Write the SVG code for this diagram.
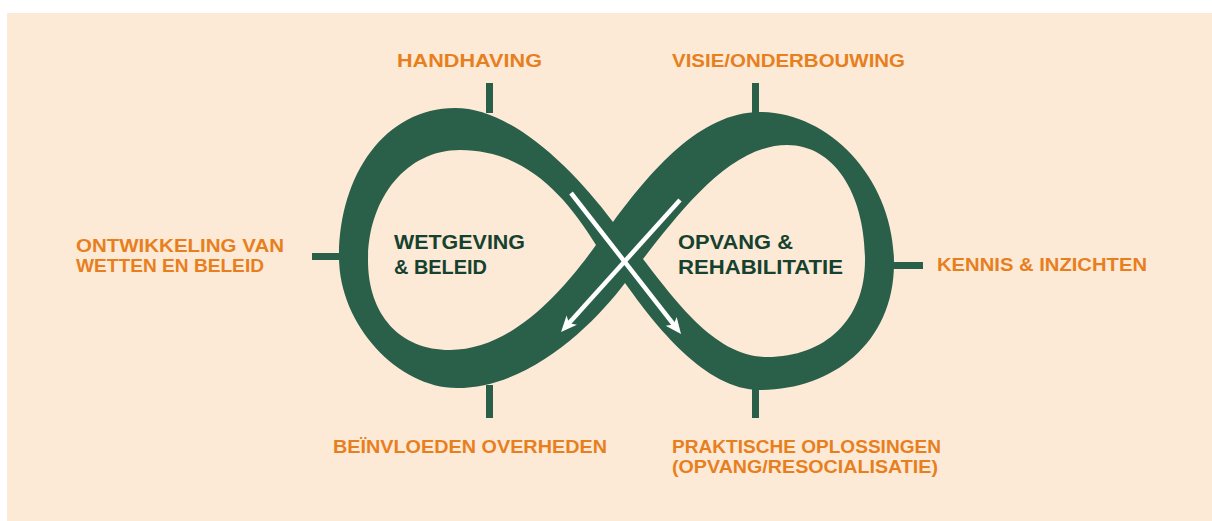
<svg xmlns="http://www.w3.org/2000/svg" width="1212" height="521" viewBox="0 0 1212 521">
  <defs>
    <style>
      .lbl { font-family: "Liberation Sans", Arial, sans-serif; font-weight: bold; font-size: 19px; fill: #E87F1E; }
      .node { font-family: "Liberation Sans", Arial, sans-serif; font-weight: bold; font-size: 21px; fill: #16412E; }
      .tick { fill: #2A5F4A; }
      .arrow { stroke: #FFFFFF; stroke-width: 4.5; fill: none; marker-end: url(#head); }
    </style>
    <marker id="head" markerUnits="userSpaceOnUse" viewBox="-10 -10 20 20" markerWidth="20" markerHeight="20" refX="0" refY="0" orient="auto">
      <path d="M-8,-7 L8,0 L-8,7 L-4,0 Z" fill="#FFFFFF"/>
    </marker>
  </defs>

  <rect x="7" y="13" width="1205" height="508" fill="#FCEAD6"/>

  <g id="infinity">
    <path fill="#2A5F4A" fill-rule="evenodd" d="
      M613,222 C650,172 700,112 760,112 C830,112 894,180 894,263 C894,345 830,390 760,390 C705,390 655,325 625,283
      C595,323 530,388 457,388 C398,388 339,325 339,257 C339,175 385,108 455,108 C510,108 570,165 613,222 Z
      M596,245 C565,195 525,150 460,150 C405,150 368,200 368,260 C368,315 400,350 450,350 C510,350 560,295 596,245 Z
      M643,259 C680,212 730,145 787,145 C835,145 865,195 865,260 C865,320 825,357 767,357 C715,357 675,300 643,259 Z"/>
  </g>

  <g id="connectors">
    <rect class="tick" x="486" y="83" width="7" height="30"/>
    <rect class="tick" x="486" y="385" width="7" height="33"/>
    <rect class="tick" x="752" y="83" width="7" height="32"/>
    <rect class="tick" x="752" y="386" width="7" height="32"/>
    <rect class="tick" x="312" y="253" width="29" height="7"/>
    <rect class="tick" x="890" y="262" width="33" height="7"/>
    <line class="arrow" x1="571" y1="193" x2="676.1" y2="327.7"/>
    <line class="arrow" x1="680" y1="200" x2="566.4" y2="326.1"/>
  </g>

  <g id="node-wetgeving">
    <text class="node" x="394" y="249" textLength="131" lengthAdjust="spacingAndGlyphs">WETGEVING</text>
    <text class="node" x="394" y="274" textLength="93" lengthAdjust="spacingAndGlyphs">&amp; BELEID</text>
  </g>
  <g id="node-opvang">
    <text class="node" x="678" y="249" textLength="115" lengthAdjust="spacingAndGlyphs">OPVANG &amp;</text>
    <text class="node" x="678" y="274" textLength="165" lengthAdjust="spacingAndGlyphs">REHABILITATIE</text>
  </g>

  <g id="label-handhaving">
    <text class="lbl" x="397" y="67" textLength="145" lengthAdjust="spacingAndGlyphs">HANDHAVING</text>
  </g>
  <g id="label-visie">
    <text class="lbl" x="672" y="67" textLength="233" lengthAdjust="spacingAndGlyphs">VISIE/ONDERBOUWING</text>
  </g>
  <g id="label-ontwikkeling">
    <text class="lbl" x="76" y="252" textLength="208" lengthAdjust="spacingAndGlyphs">ONTWIKKELING VAN</text>
    <text class="lbl" x="76" y="272" textLength="188" lengthAdjust="spacingAndGlyphs">WETTEN EN BELEID</text>
  </g>
  <g id="label-kennis">
    <text class="lbl" x="937" y="271" textLength="210" lengthAdjust="spacingAndGlyphs">KENNIS &amp; INZICHTEN</text>
  </g>
  <g id="label-beinvloeden">
    <text class="lbl" x="333" y="453" textLength="274" lengthAdjust="spacingAndGlyphs">BEÏNVLOEDEN OVERHEDEN</text>
  </g>
  <g id="label-praktische">
    <text class="lbl" x="672" y="453" textLength="269" lengthAdjust="spacingAndGlyphs">PRAKTISCHE OPLOSSINGEN</text>
    <text class="lbl" x="672" y="473" textLength="266" lengthAdjust="spacingAndGlyphs">(OPVANG/RESOCIALISATIE)</text>
  </g>
</svg>
